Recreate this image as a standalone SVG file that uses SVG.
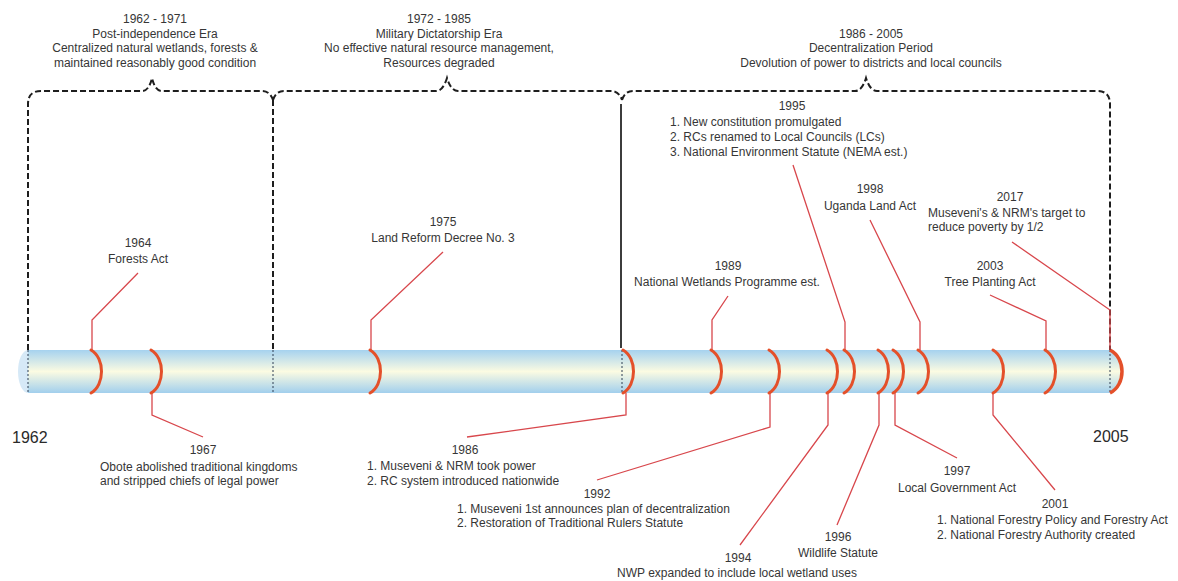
<svg xmlns="http://www.w3.org/2000/svg" width="1178" height="581" viewBox="0 0 1178 581">
<style>
  text { font-family: "Liberation Sans", Arial, sans-serif; font-size: 12px; fill: #363636; }
  .c { text-anchor: middle; }
  .big { font-size: 16px; fill: #2a2a2a; }
  .brace { fill: none; stroke: #1e1e1e; stroke-width: 2; stroke-dasharray: 6 3; }
  .inbar { fill: none; stroke: #2f3f55; stroke-width: 1; stroke-dasharray: 2 2; }
  .arc { fill: none; stroke: #e4502a; stroke-width: 3; stroke-linecap: round; }
  .conn { fill: none; stroke: #d8474c; stroke-width: 1.3; }
</style>
<defs>
  <linearGradient id="barGrad" x1="0" y1="0" x2="0" y2="1">
    <stop offset="0" stop-color="#a6d2ef"/>
    <stop offset="0.5" stop-color="#fbfbe2"/>
    <stop offset="1" stop-color="#a2cfed"/>
  </linearGradient>
  <path id="tick" d="M0,0 C14,8 14,35 0,43"/>
</defs>
<rect width="1178" height="581" fill="#ffffff"/>

<!-- timeline bar -->
<g id="timeline">
  <ellipse cx="28" cy="371.5" rx="10" ry="21.5" fill="#d6e9f7"/>
  <rect x="28" y="350" width="1082" height="43" fill="url(#barGrad)"/>
  <path d="M1110,350 C1126,358 1126,385 1110,393 Z" fill="url(#barGrad)"/>
  <path class="inbar" d="M28,350 V393 M273,350 V393 M622,350 V393 M1110,350 V393"/>
  <path d="M1110,350 C1126,358 1126,385 1110,393" fill="none" stroke="#e4502a" stroke-width="3.5"/>
  <text class="big" x="12" y="443">1962</text>
  <text class="big" x="1093" y="442">2005</text>
</g>

<!-- era braces -->
<g id="era-1962-1971">
  <path class="brace" d="M28,350 V104 Q28,91 41,91 H142 Q149,91 152,78 Q155,91 162,91 H262 Q270,91 273,100"/>
  <text class="c" x="155" y="23">1962 - 1971</text>
  <text class="c" x="155" y="37.7">Post-independence Era</text>
  <text class="c" x="155" y="52.4">Centralized natural wetlands, forests &amp;</text>
  <text class="c" x="155" y="67">maintained reasonably good condition</text>
</g>
<g id="era-1972-1985">
  <path class="brace" d="M273,100 Q276,91 284,91 H436 Q443,91 447,78 Q451,91 458,91 H611 Q619,91 622,100"/>
  <path class="brace" d="M273,100 V350"/>
  <text class="c" x="439" y="23">1972 - 1985</text>
  <text class="c" x="439" y="37.7">Military Dictatorship Era</text>
  <text class="c" x="439" y="52.4">No effective natural resource management,</text>
  <text class="c" x="439" y="67">Resources degraded</text>
</g>
<g id="era-1986-2005">
  <path class="brace" d="M622,100 Q625,91 633,91 H855 Q862,91 866,78 Q870,91 877,91 H1097 Q1110,91 1110,104 V350"/>
  <path d="M621,104 V348" fill="none" stroke="#3c3c3c" stroke-width="2"/>
  <text class="c" x="871" y="37.7">1986 - 2005</text>
  <text class="c" x="871" y="52.4">Decentralization Period</text>
  <text class="c" x="871" y="67">Devolution of power to districts and local councils</text>
</g>

<!-- connectors -->
<g id="connectors">
  <polyline class="conn" points="92,350 92,320 138,273"/>
  <polyline class="conn" points="152,393 152,415 203,437"/>
  <polyline class="conn" points="371,350 371,320 443,252"/>
  <polyline class="conn" points="626,393 626,415 467,437"/>
  <polyline class="conn" points="712,350 712,320 728,296"/>
  <polyline class="conn" points="770,393 770,427 597,480"/>
  <polyline class="conn" points="828,393 828,425 740,545"/>
  <polyline class="conn" points="845,350 845,322 793,165"/>
  <polyline class="conn" points="879,393 879,425 837,525"/>
  <polyline class="conn" points="895,393 895,425 957,458"/>
  <polyline class="conn" points="920,350 920,322 870,220"/>
  <polyline class="conn" points="993,393 993,415 1055,490"/>
  <polyline class="conn" points="1046,350 1046,321 990,295"/>
  <polyline class="conn" points="1110,350 1110,310 1012,242"/>
</g>

<!-- events -->
<g id="ev-1964">
  <use href="#tick" class="arc" x="91" y="350"/>
  <text class="c" x="138" y="247">1964</text>
  <text class="c" x="138" y="263">Forests Act</text>
</g>
<g id="ev-1967">
  <use href="#tick" class="arc" x="151" y="350"/>
  <text class="c" x="203" y="454">1967</text>
  <text x="100" y="471">Obote abolished traditional kingdoms</text>
  <text x="100" y="485">and stripped chiefs of legal power</text>
</g>
<g id="ev-1975">
  <use href="#tick" class="arc" x="370" y="350"/>
  <text class="c" x="443" y="226">1975</text>
  <text class="c" x="443" y="242">Land Reform Decree No. 3</text>
</g>
<g id="ev-1986">
  <use href="#tick" class="arc" x="623" y="350"/>
  <text class="c" x="465" y="454">1986</text>
  <text x="367" y="470">1. Museveni &amp; NRM took power</text>
  <text x="367" y="485">2. RC system introduced nationwide</text>
</g>
<g id="ev-1989">
  <use href="#tick" class="arc" x="711" y="350"/>
  <text class="c" x="728" y="270">1989</text>
  <text class="c" x="727" y="286">National Wetlands Programme est.</text>
</g>
<g id="ev-1992">
  <use href="#tick" class="arc" x="769" y="350"/>
  <text class="c" x="597" y="498">1992</text>
  <text x="457" y="513">1. Museveni 1st announces plan of decentralization</text>
  <text x="457" y="527">2. Restoration of Traditional Rulers Statute</text>
</g>
<g id="ev-1994">
  <use href="#tick" class="arc" x="827" y="350"/>
  <text class="c" x="738" y="562">1994</text>
  <text class="c" x="737" y="577">NWP expanded to include local wetland uses</text>
</g>
<g id="ev-1995">
  <use href="#tick" class="arc" x="844" y="350"/>
  <text class="c" x="792" y="110">1995</text>
  <text x="670" y="126">1. New constitution promulgated</text>
  <text x="670" y="141">2. RCs renamed to Local Councils (LCs)</text>
  <text x="670" y="156">3. National Environment Statute (NEMA est.)</text>
</g>
<g id="ev-1996">
  <use href="#tick" class="arc" x="878" y="350"/>
  <text class="c" x="838" y="541">1996</text>
  <text class="c" x="838" y="557">Wildlife Statute</text>
</g>
<g id="ev-1997">
  <use href="#tick" class="arc" x="893" y="350"/>
  <text class="c" x="957" y="475">1997</text>
  <text class="c" x="957" y="492">Local Government Act</text>
</g>
<g id="ev-1998">
  <use href="#tick" class="arc" x="918" y="350"/>
  <text class="c" x="870" y="193">1998</text>
  <text class="c" x="870" y="210">Uganda Land Act</text>
</g>
<g id="ev-2001">
  <use href="#tick" class="arc" x="993" y="350"/>
  <text class="c" x="1055" y="508">2001</text>
  <text x="937" y="524">1. National Forestry Policy and Forestry Act</text>
  <text x="937" y="539">2. National Forestry Authority created</text>
</g>
<g id="ev-2003">
  <use href="#tick" class="arc" x="1045" y="350"/>
  <text class="c" x="990" y="270">2003</text>
  <text class="c" x="990" y="286">Tree Planting Act</text>
</g>
<g id="ev-2017">
  <text class="c" x="1010" y="201">2017</text>
  <text x="928" y="217">Museveni's &amp; NRM's target to</text>
  <text x="928" y="231">reduce poverty by 1/2</text>
</g>
</svg>
